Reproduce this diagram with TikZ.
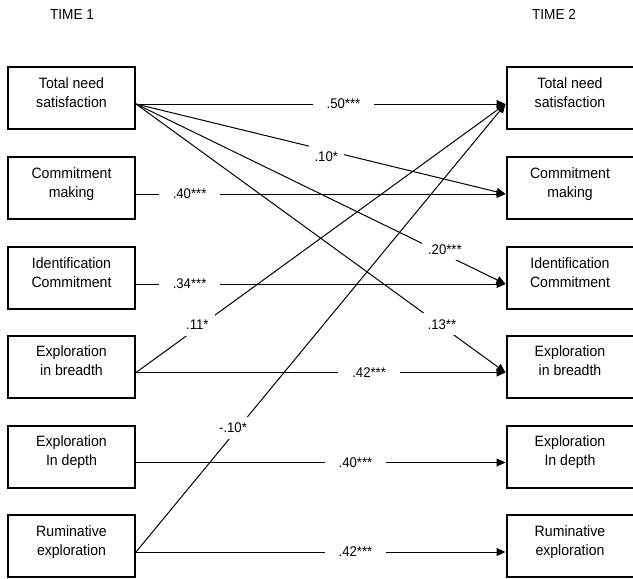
\documentclass[tikz,border=0pt]{standalone}
\usepackage{fontspec}
\setmainfont{Liberation Sans}[FakeStretch=0.94]
\usetikzlibrary{arrows.meta}
\begin{document}
\begin{tikzpicture}[x=1pt,y=-1pt,
  box/.style={draw, line width=2pt, minimum width=127pt, minimum height=62pt, inner sep=0pt},
  boxtext/.style={font=\fontsize{15}{19}\selectfont, align=center, inner sep=0pt, anchor=north},
  timelbl/.style={font=\fontsize{14.5}{17}\selectfont, inner sep=0pt, anchor=base},
  conn/.style={line width=1pt, -{Triangle[length=9pt,width=8pt]}},
  coef/.style={font=\fontsize{14}{16}\selectfont, fill=white, inner xsep=14pt, inner ysep=3pt},
  dcoef/.style={font=\fontsize{14}{16}\selectfont, fill=white, inner xsep=6pt, inner ysep=6pt},
]
\useasboundingbox (0,0) rectangle (633,579);

\node[timelbl] (t1) at (72,19) {TIME 1};
\node[timelbl] (t2) at (554,19) {TIME 2};

% left boxes
\node[box] (L1) at (71.5,98) {};
\node[box] (L2) at (71.5,188) {};
\node[box] (L3) at (71.5,278) {};
\node[box] (L4) at (71.5,366.5) {};
\node[box] (L5) at (71.5,456.5) {};
\node[box] (L6) at (71.5,546) {};
% right boxes
\node[box] (R1) at (570,98) {};
\node[box] (R2) at (570,188) {};
\node[box] (R3) at (570,278) {};
\node[box] (R4) at (570,366.5) {};
\node[box] (R5) at (570,456.5) {};
\node[box] (R6) at (570,546) {};

% box texts
\node[boxtext] (LT1) at ([yshift=-8.7pt]L1.north) {\strut Total need\\satisfaction};
\node[boxtext] (LT2) at ([yshift=-8.7pt]L2.north) {\strut Commitment\\making};
\node[boxtext] (LT3) at ([yshift=-8.7pt]L3.north) {\strut Identification\\Commitment};
\node[boxtext] (LT4) at ([yshift=-8.7pt]L4.north) {\strut Exploration\\in breadth};
\node[boxtext] (LT5) at ([yshift=-8.7pt]L5.north) {\strut Exploration\\In depth};
\node[boxtext] (LT6) at ([yshift=-8.7pt]L6.north) {\strut Ruminative\\exploration};
\node[boxtext] (RT1) at ([yshift=-8.7pt]R1.north) {\strut Total need\\satisfaction};
\node[boxtext] (RT2) at ([yshift=-8.7pt]R2.north) {\strut Commitment\\making};
\node[boxtext] (RT3) at ([yshift=-8.7pt]R3.north) {\strut Identification\\Commitment};
\node[boxtext] (RT4) at ([yshift=-8.7pt]R4.north) {\strut Exploration\\in breadth};
\node[boxtext] (RT5) at ([yshift=-8.7pt]R5.north) {\strut Exploration\\In depth};
\node[boxtext] (RT6) at ([yshift=-8.7pt]R6.north) {\strut Ruminative\\exploration};

% connectors
\draw[conn] ([yshift=-6pt]L1.east) -- ([yshift=-6pt]R1.west);
\draw[conn] ([yshift=-6pt]L1.east) -- ([yshift=-6pt]R2.west);
\draw[conn] ([yshift=-6pt]L1.east) -- ([yshift=-6pt]R3.west);
\draw[conn] ([yshift=-6pt]L1.east) -- ([yshift=-6pt]R4.west);
\draw[conn] ([yshift=-6pt]L2.east) -- ([yshift=-6pt]R2.west);
\draw[conn] ([yshift=-6pt]L3.east) -- ([yshift=-6pt]R3.west);
\draw[conn] ([yshift=-6pt]L4.east) -- ([yshift=-6pt]R4.west);
\draw[conn] ([yshift=-6pt]L4.east) -- ([yshift=-6pt]R1.west);
\draw[conn] ([yshift=-6pt]L5.east) -- ([yshift=-6pt]R5.west);
\draw[conn] ([yshift=-6pt]L6.east) -- ([yshift=-6pt]R6.west);
\draw[conn] ([yshift=-6pt]L6.east) -- ([yshift=-6pt]R1.west);

% coefficient labels (drawn over the lines)
\path ([yshift=-6pt]L1.east) -- node[coef, pos=0.5616] (c1) {.50***} ([yshift=-6pt]R1.west);
\path ([yshift=-6pt]L1.east) -- node[dcoef, pos=0.515, yshift=-6pt] (c2) {.10*} ([yshift=-6pt]R2.west);
\path ([yshift=-6pt]L1.east) -- node[dcoef, pos=0.836, yshift=5pt] (c3) {.20***} ([yshift=-6pt]R3.west);
\path ([yshift=-6pt]L1.east) -- node[dcoef, pos=0.828, yshift=2pt] (c4) {.13**} ([yshift=-6pt]R4.west);
\path ([yshift=-6pt]L2.east) -- node[coef, pos=0.145] (c5) {.40***} ([yshift=-6pt]R2.west);
\path ([yshift=-6pt]L3.east) -- node[coef, pos=0.145] (c6) {.34***} ([yshift=-6pt]R3.west);
\path ([yshift=-6pt]L4.east) -- node[coef, pos=0.631] (c7) {.42***} ([yshift=-6pt]R4.west);
\path ([yshift=-6pt]L4.east) -- node[dcoef, pos=0.166, yshift=3pt] (c8) {.11*} ([yshift=-6pt]R1.west);
\path ([yshift=-6pt]L5.east) -- node[coef, pos=0.594] (c9) {.40***} ([yshift=-6pt]R5.west);
\path ([yshift=-6pt]L6.east) -- node[coef, pos=0.594] (c10) {.42***} ([yshift=-6pt]R6.west);
\path ([yshift=-6pt]L6.east) -- node[dcoef, pos=0.268, yshift=4pt, xshift=-2pt] (c11) {-.10*} ([yshift=-6pt]R1.west);
\end{tikzpicture}
\end{document}
